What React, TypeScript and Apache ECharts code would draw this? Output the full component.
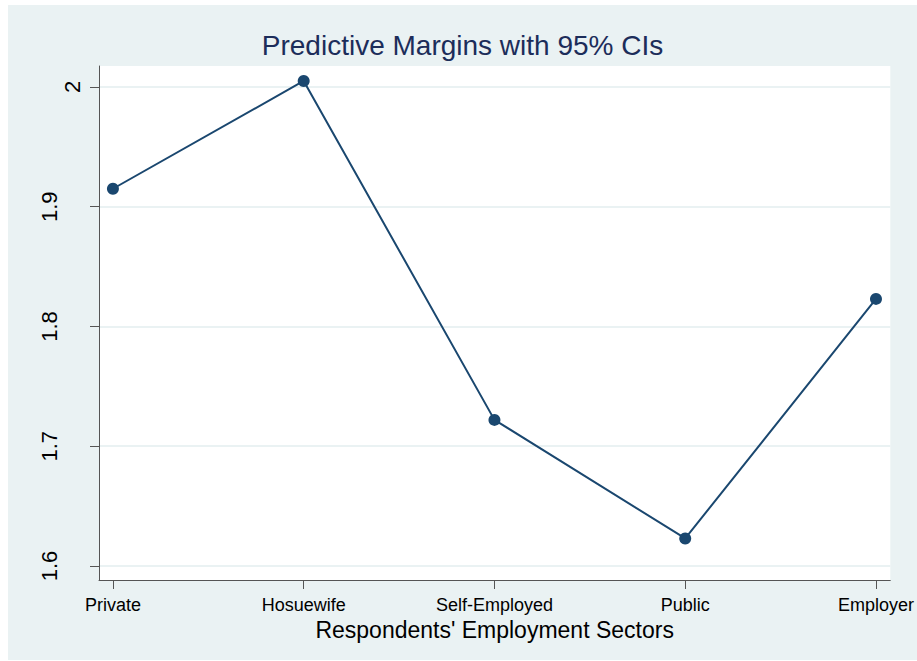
import React, { useEffect, useRef } from "react";
import * as echarts from "echarts";

const categories = ["Private", "Hosuewife", "Self-Employed", "Public", "Employer"];
const margins = [1.915, 2.005, 1.722, 1.623, 1.823];
const yTicks = [1.6, 1.7, 1.8, 1.9, 2.0];
const yTickLabels = ["1.6", "1.7", "1.8", "1.9", "2"];

const FONT = "'Liberation Sans', Arial, Helvetica, sans-serif";

export default function App() {
  const ref = useRef<HTMLDivElement>(null);
  useEffect(() => {
    if (!ref.current) return;
    const chart = echarts.init(ref.current, undefined, { renderer: "svg" });
    const xPos = categories.map((_, i) => i + 1);
    const yLabelStyle = { fontFamily: FONT, fontSize: 22, color: "#000" };
    chart.setOption({
      animation: false,
      backgroundColor: "#eaf2f3",
      title: {
        text: "Predictive Margins with 95% CIs",
        left: "center",
        top: 26,
        padding: 0,
        textStyle: { fontFamily: FONT, fontSize: 28, fontWeight: "normal", color: "#1c2d5a" },
      },
      grid: {
        left: 91,
        right: 24,
        top: 61,
        bottom: 80,
        show: true,
        backgroundColor: "#ffffff",
        borderWidth: 0,
      },
      xAxis: {
        type: "value",
        min: 0.927,
        max: 5.075,
        name: "Respondents' Employment Sectors",
        nameLocation: "middle",
        nameGap: 29,
        nameTextStyle: { fontFamily: FONT, fontSize: 23, color: "#000" },
        axisLine: { show: true, onZero: false, lineStyle: { color: "#555", width: 1 } },
        axisTick: { show: true, length: 9, customValues: xPos, lineStyle: { color: "#555", width: 1 } },
        axisLabel: {
          customValues: xPos,
          margin: 16,
          fontFamily: FONT,
          fontSize: 18,
          color: "#000",
          formatter: (v: number) => categories[Math.round(v) - 1] ?? "",
        },
        splitLine: { show: false },
      },
      yAxis: {
        type: "value",
        min: 1.5883,
        max: 2.0175,
        axisLine: { show: true, onZero: false, lineStyle: { color: "#555", width: 1 } },
        axisTick: { show: true, length: 9, customValues: yTicks, lineStyle: { color: "#555", width: 1 } },
        axisLabel: {
          customValues: yTicks,
          rotate: 90,
          margin: 16,
          ...yLabelStyle,
          formatter: (v: number) => {
            const i = yTicks.findIndex((t) => Math.abs(t - v) < 1e-6);
            if (i < 0) return "";
            const s = yTickLabels[i];
            return s.length > 1 ? `{long|${s}}` : `{short|${s}}`;
          },
          rich: {
            short: { ...yLabelStyle },
            long: { ...yLabelStyle, padding: [0, 0, 23, 0] },
          },
        },
        splitLine: { show: true, lineStyle: { color: "#eaf2f3", width: 2 } },
      },
      series: [
        {
          type: "line",
          data: margins.map((v, i) => [xPos[i], v]),
          symbol: "circle",
          symbolSize: 12,
          showAllSymbol: true,
          itemStyle: { color: "#1a476f" },
          lineStyle: { color: "#1a476f", width: 2 },
        },
      ],
    });
    return () => chart.dispose();
  }, []);
  return (
    <div
      ref={ref}
      style={{ position: "absolute", left: 8, top: 5, width: 909, height: 655 }}
    />
  );
}
